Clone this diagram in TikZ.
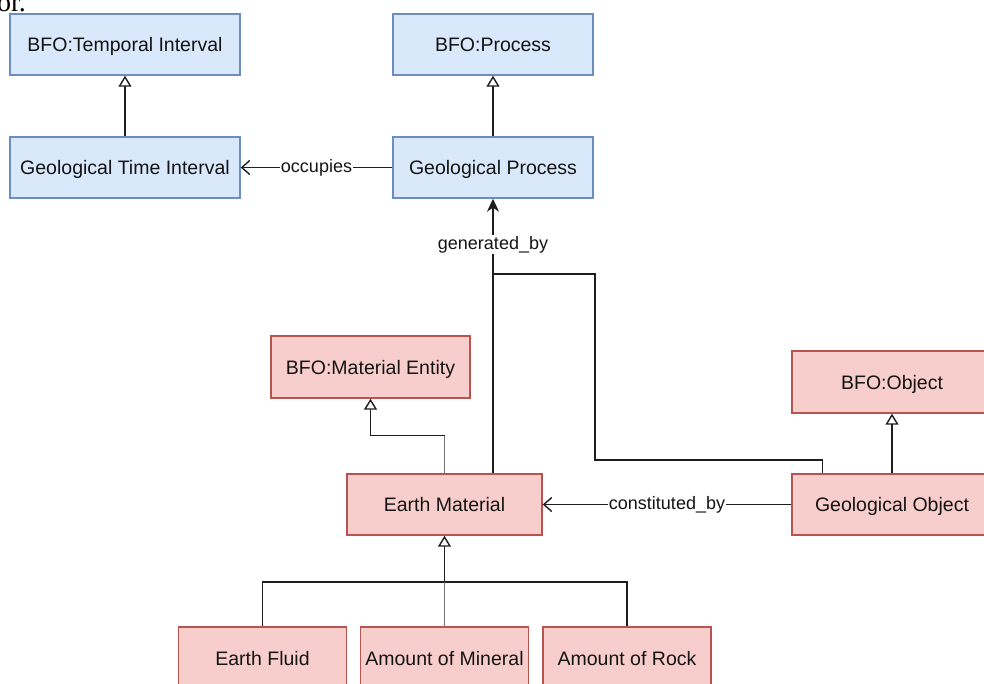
\documentclass[tikz,border=0pt]{standalone}
\usepackage{fontspec}
\setmainfont{Liberation Sans}
\newfontfamily\serifpart{Liberation Serif}
\usetikzlibrary{arrows.meta,positioning}

\definecolor{blueFill}{HTML}{DAE8FC}
\definecolor{blueLine}{HTML}{6C8EBF}
\definecolor{redFill}{HTML}{F8CECC}
\definecolor{redLine}{HTML}{B85450}
\definecolor{edgeInk}{HTML}{1E1E1E}
\definecolor{textInk}{HTML}{141414}

\tikzset{
  classbox/.style={rectangle, line width=1.4pt, inner sep=0pt,
    text height=14pt, text depth=0pt,
    font=\fontsize{19.5}{23}\selectfont, text=textInk},
  bluebox/.style={classbox, fill=blueFill, draw=blueLine},
  redbox/.style={classbox, fill=redFill, draw=redLine},
  link/.style={draw=edgeInk, line width=1.6pt},
  isa/.style={link, -{Triangle[open, length=11pt, width=13pt, line width=1.4pt]}},
  rel/.style={link, -{Straight Barb[length=8pt, width=14pt, line width=1.4pt]}},
  relfilled/.style={link, -{Stealth[length=13pt, width=12pt, inset=4pt]}},
  edgelabel/.style={fill=white, inner sep=1pt, text=textInk,
    text height=13pt, text depth=3.5pt,
    font=\fontsize{18}{21}\selectfont},
}

\begin{document}
\begin{tikzpicture}[x=1pt, y=-1pt]
  \useasboundingbox (0,0) rectangle (984,684);

  % fragment of running text above the figure
  \node[anchor=base west, inner sep=0pt, font=\serifpart\fontsize{28}{30}\selectfont]
    (frag) at (-3,12) {or.};

  % process / time side
  \node[bluebox, minimum width=230pt, minimum height=61pt] (ti)  at (125,44.5)  {BFO:Temporal Interval};
  \node[bluebox, minimum width=230pt, minimum height=61pt] (gti) at (125,167.5) {Geological Time Interval};
  \node[bluebox, minimum width=200pt, minimum height=61pt] (bp)  at (493,44.5)  {BFO:Process};
  \node[bluebox, minimum width=200pt, minimum height=61pt] (gp)  at (493,167.5) {Geological Process};

  % material side
  \node[redbox, minimum width=199pt, minimum height=62pt] (me)  at (370.5,367) {BFO:Material Entity};
  \node[redbox, minimum width=195pt, minimum height=61pt] (em)  at (444.5,504.5) {Earth Material};
  \node[redbox, minimum width=200pt, minimum height=62pt] (obj) at (892,382)   {BFO:Object};
  \node[redbox, minimum width=200pt, minimum height=61pt] (go)  at (892,504.5) {Geological Object};

  \node[redbox, minimum width=168pt, minimum height=62pt] (fluid)   at (262.5,658) {Earth Fluid};
  \node[redbox, minimum width=168pt, minimum height=62pt] (mineral) at (444.5,658) {Amount of Mineral};
  \node[redbox, minimum width=168pt, minimum height=62pt] (rock)    at (627,658)   {Amount of Rock};

  % subclass links
  \draw[isa] (gti) -- (ti);
  \draw[isa] (gp) -- (bp);
  \draw[isa] (go) -- (obj);
  \draw[link, draw=black!55] (em.north) -- ++(0,-38) coordinate (bend);
  \draw[isa] (bend) -| (me.south);

  % subclasses of Earth Material
  \coordinate (bus) at (444.5,582);
  \draw[isa] (bus) -- (em.south);
  \draw[link] (fluid.north) |- (bus) -| (rock.north);
  \draw[link, draw=black!55] (mineral.north) -- (bus);

  % relations
  \draw[rel] (gp.west) -- node[edgelabel] {occupies} (gti.east);
  \draw[rel] (go.west) -- node[edgelabel] {constituted\_by} (em.east);

  \coordinate (j1) at (595,460);
  \coordinate (j2) at (595,274);
  \coordinate (merge) at (493,274);
  \draw[link] ([xshift=31pt]go.north west) |- (j1) -- (j2) -- (merge);
  \draw[relfilled] (em.north -| gp.south) -- node[pos=0.833, edgelabel] {generated\_by} (gp.south);
\end{tikzpicture}
\end{document}
